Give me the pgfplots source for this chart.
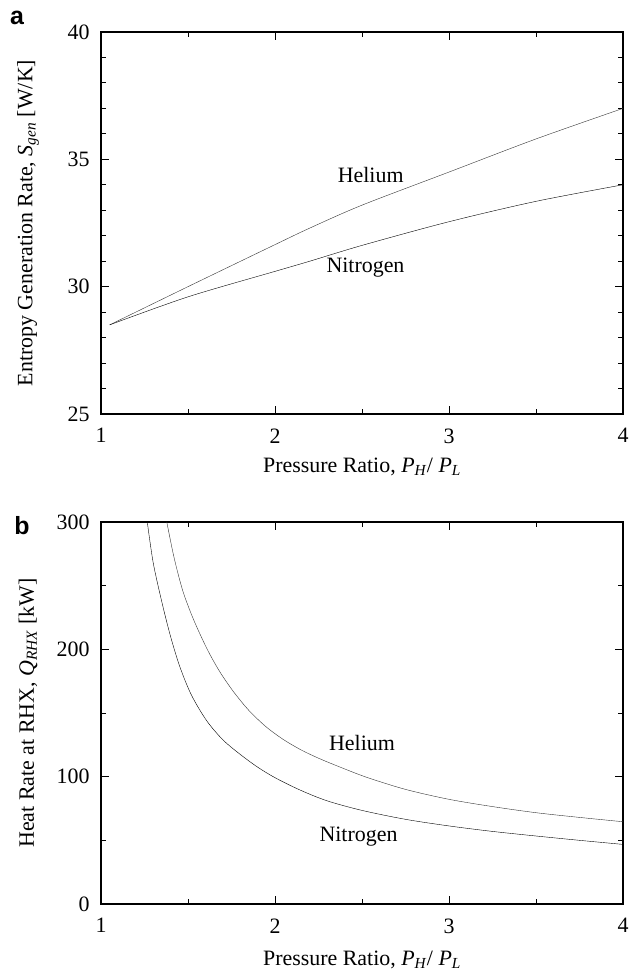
\documentclass[border=0pt]{standalone}
\usepackage{fontspec}
\setmainfont{Liberation Serif}
\setsansfont{Liberation Sans}
\usepackage{pgfplots}
\pgfplotsset{compat=1.18}
\newcommand{\fs}{\fontsize{22}{26}\selectfont}
\pgfplotsset{
  myax/.style={
    scale only axis, width=522bp, height=382bp,
    xmin=1, xmax=4, xtick={1,2,3,4},
    minor x tick num=1,
    tick align=inside,
    major tick length=8bp, minor tick length=5bp,
    axis line style={line width=1.2pt},
    every tick/.style={black, line width=0.9pt},
    /pgf/number format/assume math mode=true,
    yticklabel style={xshift=-4bp},
    xticklabel style={yshift=-7bp},
    ylabel style={at={(axis description cs:0,0.5)}, anchor=center, yshift=73bp},
    tick label style={font=\fs},
    label style={font=\fs},
    no markers,
    cycle list={{black!80, solid, line width=0.9pt}},
  }
}
\begin{document}
\fs
\begin{tikzpicture}[x=1bp,y=1bp]
\useasboundingbox (0,0) rectangle (629,975);
% panel a
\begin{axis}[myax, at={(101bp,561bp)}, anchor=south west,
  ymin=25, ymax=40, ytick={25,30,35,40}, minor y tick num=4,
  xlabel style={at={(axis description cs:0.5,0)}, anchor=center, yshift=-53bp},
  xlabel={Pressure Ratio, \textit{P}\textsubscript{\textit{H}}/ \textit{P}\textsubscript{\textit{L}}},
  ylabel={Entropy Generation Rate, \textit{S}\textsubscript{\textit{gen}} [W/K]}]
\addplot+[smooth] coordinates {(1.05,28.5) (1.5,30.0) (2,31.65) (2.2,32.3) (2.5,33.2) (3,34.5) (3.5,35.8) (4,37.0)};
\addplot+[smooth] coordinates {(1.05,28.5) (1.5,29.6) (2,30.6) (2.2,31.0) (2.5,31.62) (3,32.55) (3.5,33.35) (4,34.0)};
\node[font=\fs] at (axis cs:2.55,34.38) {Helium};
\node[font=\fs] at (axis cs:2.52,30.75) {Nitrogen};
\end{axis}
% panel b
\begin{axis}[myax, at={(101bp,71bp)}, anchor=south west,
  ymin=0, ymax=300, ytick={0,100,200,300}, minor y tick num=1,
  xlabel style={at={(axis description cs:0.5,0)}, anchor=center, yshift=-56bp},
  xlabel={Pressure Ratio,\ \textit{P}\textsubscript{\textit{H}}/ \textit{P}\textsubscript{\textit{L}}},
  ylabel={Heat Rate at RHX, \textit{Q}\textsubscript{\textit{RHX}} [kW]}]
\addplot+[smooth] coordinates {(1.378,300) (1.42,272) (1.47,246) (1.53,224) (1.607,201) (1.68,183) (1.76,167) (1.85,152) (1.95,139) (2.05,129) (2.15,121) (2.25,114.5) (2.374,107.5) (2.527,99.5) (2.75,90) (3.0,82.2) (3.25,76.5) (3.5,71.7) (3.75,68) (4.0,64.6)};
\addplot+[smooth] coordinates {(1.266,300) (1.30,268) (1.35,237) (1.40,210) (1.454,186) (1.52,164) (1.607,144) (1.70,129) (1.80,117.5) (1.9,107.5) (2.0,99.2) (2.144,89.5) (2.3,81) (2.5,73.5) (2.75,66.5) (3.0,61.3) (3.25,57) (3.5,53.4) (3.75,50) (4.0,46.8)};
\node[font=\fs] at (axis cs:2.50,126.5) {Helium};
\node[font=\fs] at (axis cs:2.48,53.3) {Nitrogen};
\end{axis}
\node[font=\fontsize{25}{28}\selectfont\sffamily\bfseries] at (17,957) {a};
\node[font=\fontsize{25}{28}\selectfont\sffamily\bfseries] at (22,449) {b};
\end{tikzpicture}
\end{document}
